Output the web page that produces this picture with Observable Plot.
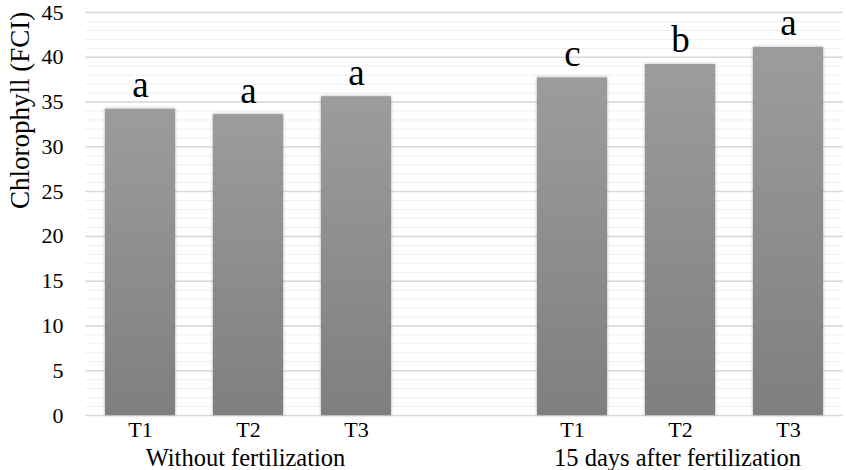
<!DOCTYPE html>
<html>
<head>
<meta charset="utf-8">
<script src="https://cdn.jsdelivr.net/npm/d3@7"></script>
<script src="https://cdn.jsdelivr.net/npm/@observablehq/plot@0.6"></script>
<style>
  html, body { margin: 0; padding: 0; background: #fff; }
  #chart svg { font-family: "Liberation Serif", "Times New Roman", serif !important; }
</style>
</head>
<body>
<div id="chart"></div>
<script>
const groups = ["Without fertilization", "15 days after fertilization"];
const treatments = ["T1", "T2", "T3"];
const valuesWithout = [34.2, 33.6, 35.6];
const valuesAfter = [37.7, 39.2, 41.1];
const lettersWithout = ["a", "a", "a"];
const lettersAfter = ["c", "b", "a"];
const yTicks = [0, 5, 10, 15, 20, 25, 30, 35, 40, 45];
const yMinor = d3.range(0, 46, 1);

const rows = [];
treatments.forEach((t, i) => rows.push({key: "A-" + t, t, group: groups[0], value: valuesWithout[i], letter: lettersWithout[i]}));
treatments.forEach((t, i) => rows.push({key: "B-" + t, t, group: groups[1], value: valuesAfter[i], letter: lettersAfter[i]}));
const domain = ["A-T1", "A-T2", "A-T3", "gap", "B-T1", "B-T2", "B-T3"];
const groupRows = [{key: "A-T2", label: groups[0]}, {key: "B-T2", label: groups[1]}];
const serif = "Liberation Serif, Times New Roman, serif";

const chart = Plot.plot({
  width: 846,
  height: 470,
  marginLeft: 85,
  marginRight: 3,
  marginTop: 12,
  marginBottom: 55,
  style: {fontFamily: serif, color: "#000", background: "#fff"},
  x: {type: "band", domain, paddingInner: 0.35, paddingOuter: 0.175},
  y: {domain: [0, 45]},
  marks: [
    Plot.ruleY(yMinor, {stroke: "#efefef", strokeWidth: 1}),
    Plot.ruleY(yTicks, {stroke: "#d9d9d9", strokeWidth: 1.5}),
    Plot.barY(rows, {x: "key", y: "value", fill: "url(#barGrad)"}),
    Plot.text(rows, {x: "key", y: "value", text: "letter", lineAnchor: "bottom", dy: -12, fontSize: 37, fontFamily: serif, fill: "#000"}),
    Plot.axisY({ticks: yTicks, tickSize: 0, tickPadding: 22, fontSize: 22, fontFamily: serif, label: null}),
    Plot.axisX({tickSize: 0, tickPadding: 6, fontSize: 22, fontFamily: serif, tickFormat: d => d === "gap" ? "" : d.slice(2), label: null}),
    Plot.text(groupRows, {x: "key", text: "label", frameAnchor: "bottom", lineAnchor: "bottom", dy: 50, dx: -3, fontSize: 24.5, fontFamily: serif, fill: "#000"}),
    Plot.text(["Chlorophyll (FCI)"], {frameAnchor: "left", rotate: -90, dx: -65, dy: -5, fontSize: 27, fontFamily: serif, fill: "#000"})
  ]
});

const svg = d3.select(chart);
const defs = svg.insert("defs", ":first-child");
const g = defs.append("linearGradient").attr("id", "barGrad").attr("x1", 0).attr("y1", 0).attr("x2", 0).attr("y2", 1);
g.append("stop").attr("offset", "0%").attr("stop-color", "#9c9c9c");
g.append("stop").attr("offset", "100%").attr("stop-color", "#7f7f7f");
const f = defs.append("filter").attr("id", "barShadow").attr("x", "-20%").attr("y", "-5%").attr("width", "140%").attr("height", "110%");
f.append("feDropShadow").attr("dx", 0).attr("dy", 0).attr("stdDeviation", 1.5).attr("flood-color", "#000").attr("flood-opacity", 0.35);
svg.selectAll("rect").filter(function() { return this.getAttribute("fill") === "url(#barGrad)" || (this.parentNode && this.parentNode.getAttribute("fill") === "url(#barGrad)"); }).attr("filter", "url(#barShadow)");

document.getElementById("chart").appendChild(chart);
</script>
</body>
</html>
